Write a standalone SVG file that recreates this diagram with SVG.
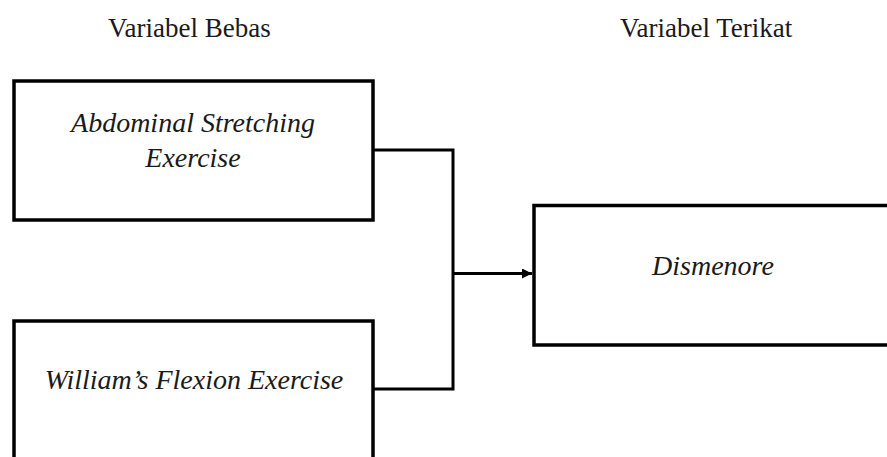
<svg xmlns="http://www.w3.org/2000/svg" width="887" height="457" viewBox="0 0 887 457">
<style>
.box{fill:#fff;stroke:#000;stroke-width:3.5}
.lbl{font-family:"Liberation Serif","Times New Roman",serif;font-size:28px;font-style:italic;fill:#1a1a1a;text-anchor:middle}
.hdr{font-family:"Liberation Serif","Times New Roman",serif;font-size:27px;fill:#1a1a1a}
.conn{fill:none;stroke:#000;stroke-width:3}
</style>
<defs>
<marker id="arr" markerWidth="10" markerHeight="10" refX="10" refY="5" orient="auto" markerUnits="userSpaceOnUse">
<path d="M0,0 L10,5 L0,10 Z" fill="#000"/>
</marker>
</defs>
<rect width="887" height="457" fill="#fff"/>
<text class="hdr" x="108" y="37">Variabel Bebas</text>
<text class="hdr" x="620" y="37">Variabel Terikat</text>
<g id="connectors">
<polyline class="conn" points="373,150 453,150 453,389 373,389"/>
<line class="conn" x1="453" y1="273.5" x2="532" y2="273.5" marker-end="url(#arr)"/>
</g>
<g id="abdominal">
<rect class="box" x="14" y="81" width="359" height="139"/>
<text class="lbl" x="193" y="132">Abdominal Stretching</text>
<text class="lbl" x="193" y="167">Exercise</text>
</g>
<g id="william">
<rect class="box" x="14" y="321" width="359" height="160"/>
<text class="lbl" x="194" y="389">William’s Flexion Exercise</text>
</g>
<g id="dismenore">
<rect class="box" x="534" y="205.5" width="380" height="139.5"/>
<text class="lbl" x="713" y="275">Dismenore</text>
</g>
</svg>
